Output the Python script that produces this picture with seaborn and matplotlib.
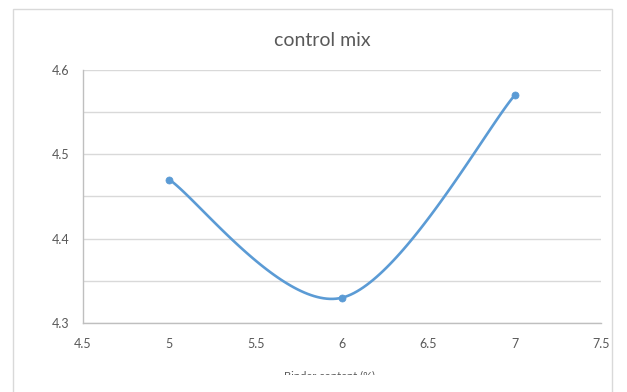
import numpy as np
import matplotlib
matplotlib.use("Agg")
import matplotlib.pyplot as plt
from matplotlib.patches import Rectangle
from matplotlib.transforms import Bbox
import seaborn as sns

# data
binder_content = [5, 6, 7]
density = [4.47, 4.33, 4.57]
x_ticks = [4.5, 5, 5.5, 6, 6.5, 7, 7.5]
y_ticks = [4.3, 4.4, 4.5, 4.6]
y_minor = [4.35, 4.45, 4.55]
title = "control mix"
x_label = "Binder content (%)"

LINE_BLUE = "#5B9BD5"
GRID_GRAY = "#D9D9D9"
TEXT_GRAY = "#595959"


def excel_smooth(xs, ys, n=60):
    """Excel-style smoothed line: cubic bezier with 1/6 tangent control points."""
    pts = np.column_stack([xs, ys]).astype(float)
    out = []
    for i in range(len(pts) - 1):
        p_prev = pts[max(i - 1, 0)]
        p0 = pts[i]
        p1 = pts[i + 1]
        p_next = pts[min(i + 2, len(pts) - 1)]
        c1 = p0 + (p1 - p_prev) / 6.0
        c2 = p1 - (p_next - p0) / 6.0
        t = np.linspace(0, 1, n)[:, None]
        seg = ((1 - t) ** 3) * p0 + 3 * ((1 - t) ** 2) * t * c1 + 3 * (1 - t) * t ** 2 * c2 + t ** 3 * p1
        out.append(seg if i == 0 else seg[1:])
    curve = np.vstack(out)
    return curve[:, 0], curve[:, 1]


sns.set_style("white")
plt.rcParams['font.family'] = ['Lato', 'DejaVu Sans']

fig = plt.figure(figsize=(6.27, 3.92), dpi=100)
ax = fig.add_axes([83 / 627, 1 - 323 / 392, (601 - 83) / 627, (323 - 70) / 392])

# outer chart frame
fig.patches.append(Rectangle((13 / 627, -0.05), (612 - 13) / 627, 1.05 - 9 / 392,
                             transform=fig.transFigure, fill=False,
                             edgecolor=GRID_GRAY, linewidth=1.0))

sx, sy = excel_smooth(binder_content, density)
sns.lineplot(x=sx, y=sy, ax=ax, color=LINE_BLUE, linewidth=1.9, sort=False, estimator=None)
sns.scatterplot(x=binder_content, y=density, ax=ax, color=LINE_BLUE, s=26,
                edgecolor=LINE_BLUE, linewidth=0.5, zorder=3)

ax.set_xlim(4.5, 7.5)
ax.set_ylim(4.3, 4.6)
ax.set_xticks(x_ticks)
ax.set_xticklabels([f"{v:g}" for v in x_ticks])
ax.set_yticks(y_ticks)
ax.set_yticklabels([f"{v:.1f}" for v in y_ticks])
ax.set_yticks(y_minor, minor=True)

ax.grid(True, which="both", axis="y", color=GRID_GRAY, linewidth=1.0)
ax.set_axisbelow(True)
for side in ["top", "right"]:
    ax.spines[side].set_visible(False)
for side in ["left", "bottom"]:
    ax.spines[side].set_color("#BFBFBF")
    ax.spines[side].set_linewidth(1.0)

ax.tick_params(axis="both", which="both", direction="out", length=5, width=1.0,
               color="#BFBFBF", labelsize=9, labelcolor=TEXT_GRAY)
ax.tick_params(axis="y", which="major", pad=5)
ax.tick_params(axis="x", which="major", pad=6)

fig.text(322 / 627, 1 - 40 / 392, title, ha="center", va="center",
         fontsize=14, color=TEXT_GRAY)

# axis title sits mostly below the visible chart area, as in the reference
lbl = fig.text(330 / 627, 1 - 370 / 392, x_label, ha="center", va="top",
               fontsize=8, color=TEXT_GRAY)
lbl.set_clip_box(Bbox.from_extents(0, 392 - 375, 627, 392))
lbl.set_clip_on(True)

fig.savefig("out.png", dpi=100)
